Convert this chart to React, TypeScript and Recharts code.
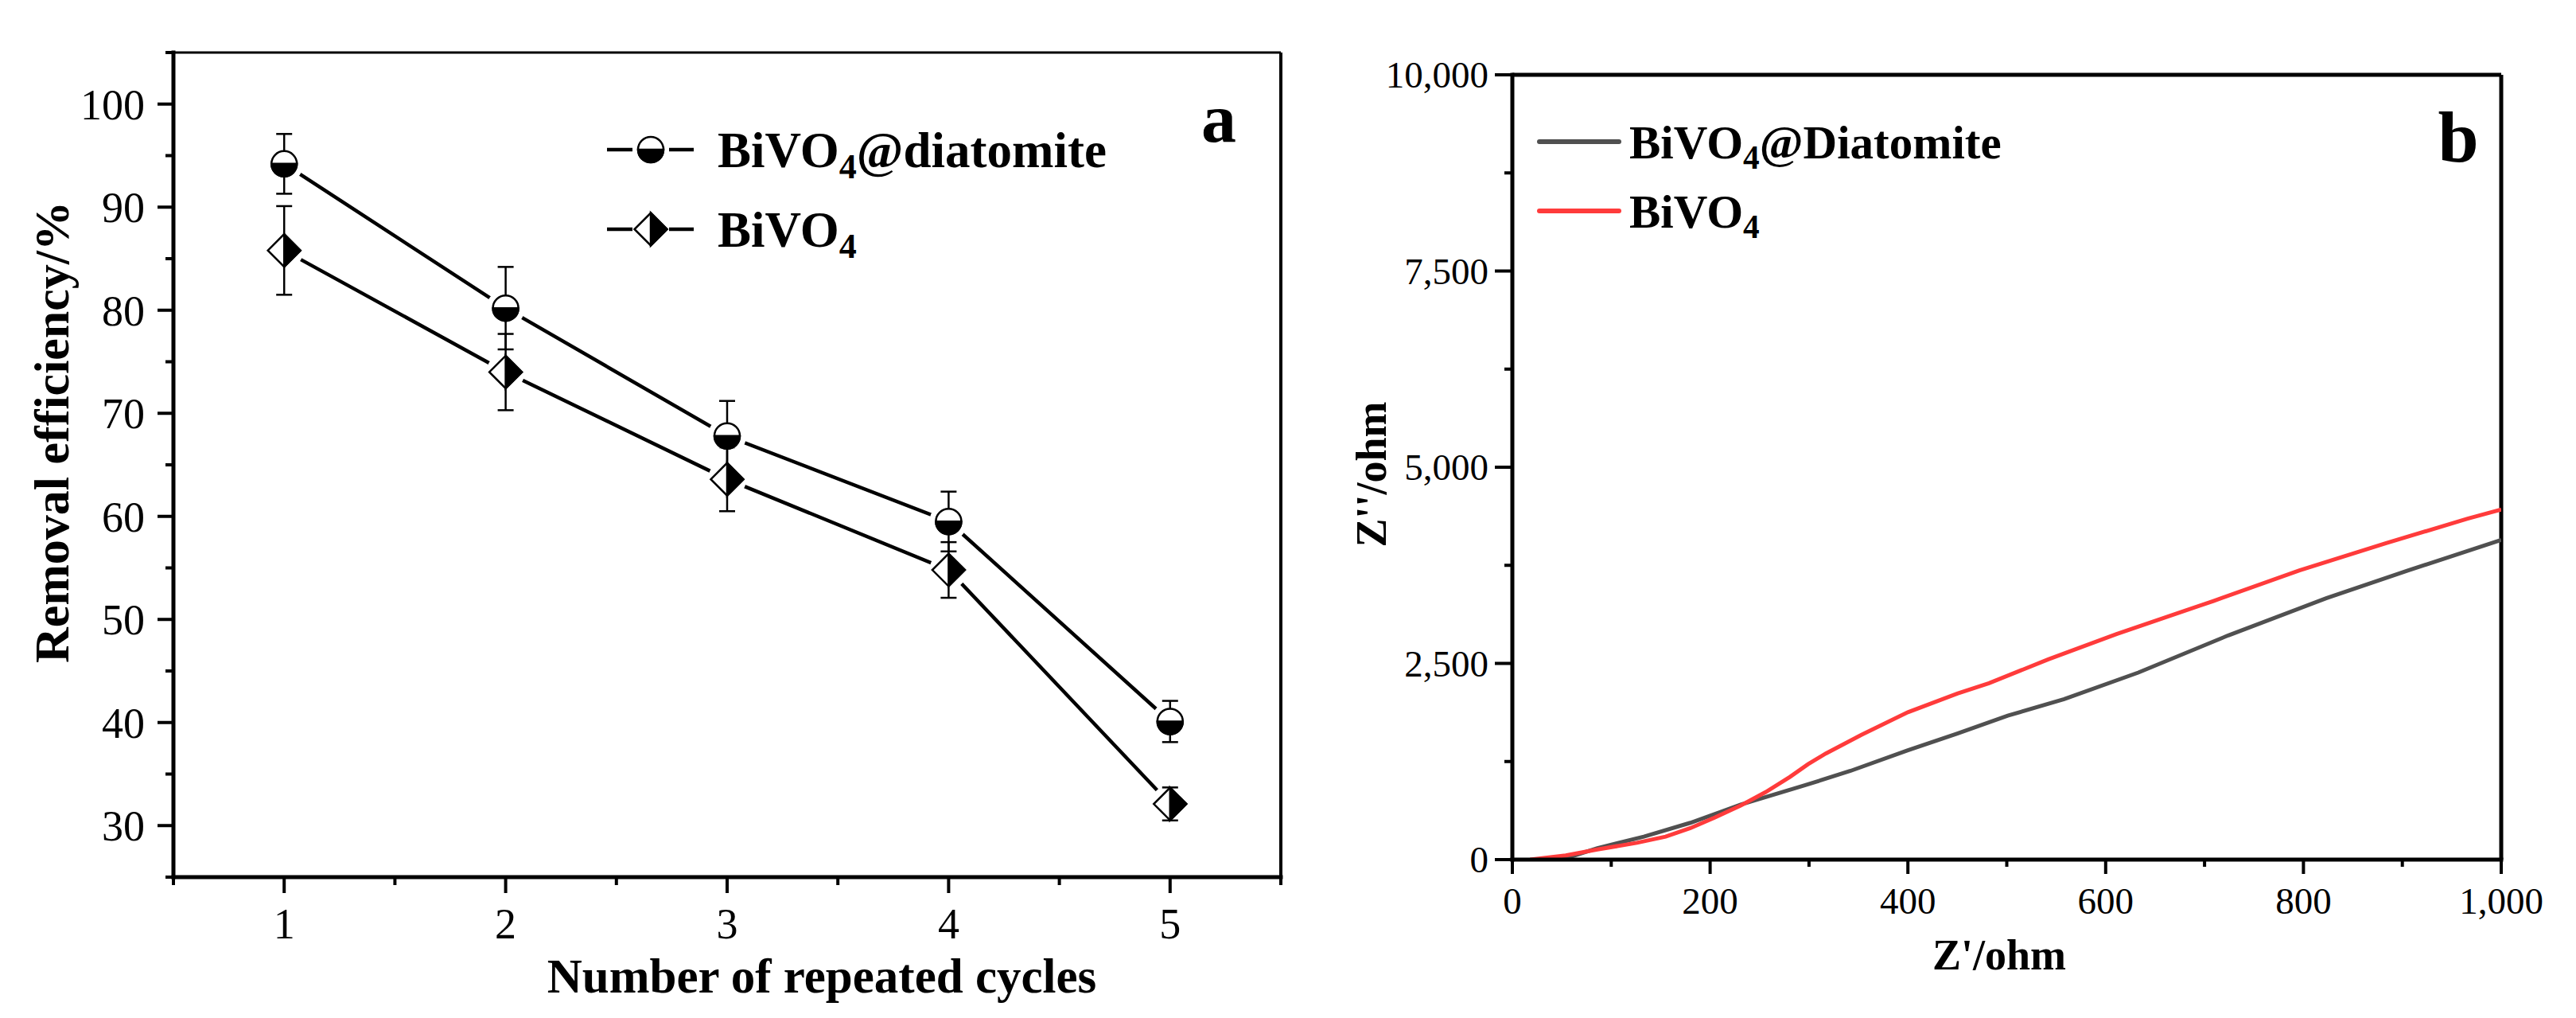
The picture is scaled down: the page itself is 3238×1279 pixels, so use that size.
import React from 'react';
import { LineChart, Line, XAxis, YAxis, ErrorBar, Legend, Customized, ReferenceLine } from 'recharts';

const FONT = '"Liberation Serif", "Times New Roman", Times, serif';

// ---------- Panel a: removal efficiency vs cycles ----------
const cycles = [1, 2, 3, 4, 5];
const compositeEff = [94.2, 80.2, 67.8, 59.5, 40.1];
const compositeErr = [2.9, 4.0, 3.4, 2.9, 2.0];
const bivo4Eff = [85.8, 74.0, 63.6, 54.8, 32.1];
const bivo4Err = [4.3, 3.7, 3.1, 2.7, 1.6];

const xTicksA = [0.5, 1, 1.5, 2, 2.5, 3, 3.5, 4, 4.5, 5, 5.5];
const xLabelsA = [1, 2, 3, 4, 5];
const yTicksA = [25, 30, 35, 40, 45, 50, 55, 60, 65, 70, 75, 80, 85, 90, 95, 100, 105];
const yLabelsA = [30, 40, 50, 60, 70, 80, 90, 100];

// ---------- Panel b: Nyquist plot ----------
const diatomiteZre = [50, 86, 133, 180, 231, 295, 342, 400, 450, 501, 558, 633, 724, 823, 906, 1000];
const diatomiteZim = [0, 146, 292, 469, 700, 944, 1131, 1393, 1607, 1834, 2045, 2383, 2857, 3330, 3685, 4074];
const bivo4Zre = [18, 54, 86, 126, 155, 180, 205, 231, 256, 281, 299, 317, 353, 400, 450, 482, 542, 611, 709, 796, 883, 966, 1000];
const bivo4Zim = [0, 54, 129, 214, 292, 401, 537, 690, 859, 1056, 1216, 1352, 1590, 1878, 2116, 2248, 2552, 2873, 3296, 3685, 4030, 4344, 4462];

const xTicksB = [0, 100, 200, 300, 400, 500, 600, 700, 800, 900, 1000];
const xLabelsB = [0, 200, 400, 600, 800, 1000];
const yTicksB = [0, 1250, 2500, 3750, 5000, 6250, 7500, 8750, 10000];
const yLabelsB = [0, 2500, 5000, 7500, 10000];

const GRAY = '#505050';
const RED = '#ff3b3b';

const dataA = cycles.map((c, i) => ({
  cycle: c,
  comp: compositeEff[i],
  compErr: compositeErr[i],
  bv: bivo4Eff[i],
  bvErr: bivo4Err[i],
}));
const dataDia = diatomiteZre.map((x, i) => ({ x, y: diatomiteZim[i] }));
const dataBv = bivo4Zre.map((x, i) => ({ x, y: bivo4Zim[i] }));

const fmtB = (v: number) => v.toLocaleString('en-US');

// ---------- markers ----------
const haloPath = (cx: number, cy: number, r: number) => {
  const a = (58 * Math.PI) / 180;
  const dx = r * Math.cos(a);
  const dy = r * Math.sin(a);
  return `M${cx},${cy} L${cx + dx},${cy - dy} A${r},${r} 0 0 1 ${cx + dx},${cy + dy} Z M${cx},${cy} L${cx - dx},${cy + dy} A${r},${r} 0 0 1 ${cx - dx},${cy - dy} Z`;
};

const CircleMark = ({ cx, cy }: { cx: number; cy: number }) => {
  const r = 16;
  return (
    <g>
      <circle cx={cx} cy={cy} r={r} fill="#fff" stroke="#000" strokeWidth={2.5} />
      <path d={`M${cx - r},${cy} A${r},${r} 0 0 0 ${cx + r},${cy} Z`} fill="#000" stroke="#000" strokeWidth={2.5} />
    </g>
  );
};

const DiamondMark = ({ cx, cy }: { cx: number; cy: number }) => {
  const w = 20.5;
  const h = 20.5;
  return (
    <g>
      <path d={`M${cx},${cy - h} L${cx + w},${cy} L${cx},${cy + h} L${cx - w},${cy} Z`} fill="#fff" stroke="#000" strokeWidth={2.5} strokeLinejoin="miter" />
      <path d={`M${cx},${cy - h} L${cx + w},${cy} L${cx},${cy + h} Z`} fill="#000" stroke="#000" strokeWidth={2.5} />
    </g>
  );
};

const circleDot = (props: any) => {
  const { cx, cy, index } = props;
  if (cx == null || cy == null) return <g key={`c${index}`} />;
  return (
    <g key={`c${index}`}>
      <path d={haloPath(cx, cy, 24)} fill="#fff" />
      <CircleMark cx={cx} cy={cy} />
    </g>
  );
};

const diamondDot = (props: any) => {
  const { cx, cy, index } = props;
  if (cx == null || cy == null) return <g key={`d${index}`} />;
  return (
    <g key={`d${index}`}>
      <path d={haloPath(cx, cy, 24)} fill="#fff" />
      <DiamondMark cx={cx} cy={cy} />
    </g>
  );
};

// ---------- ticks ----------
const makeYTick = (labels: number[], majorLen: number, minorLen: number, offset: number, fontSize: number, fmt: (v: number) => string) =>
  (props: any) => {
    const { x, y, payload } = props;
    const v = payload.value;
    const major = labels.includes(v);
    return (
      <g>
        <line x1={x} x2={x - (major ? majorLen : minorLen)} y1={y} y2={y} stroke="#000" strokeWidth={4} />
        {major && (
          <text x={x - offset} y={y} dy="0.35em" textAnchor="end" fontSize={fontSize} fontFamily={FONT} fill="#000">
            {fmt(v)}
          </text>
        )}
      </g>
    );
  };

const makeXTick = (labels: number[], majorLen: number, minorLen: number, offset: number, fontSize: number, fmt: (v: number) => string) =>
  (props: any) => {
    const { x, y, payload } = props;
    const v = payload.value;
    const major = labels.includes(v);
    return (
      <g>
        <line x1={x} x2={x} y1={y} y2={y + (major ? majorLen : minorLen)} stroke="#000" strokeWidth={4} />
        {major && (
          <text x={x} y={y + offset} textAnchor="middle" fontSize={fontSize} fontFamily={FONT} fill="#000">
            {fmt(v)}
          </text>
        )}
      </g>
    );
  };

const YTickA = makeYTick(yLabelsA, 20, 10, 36, 54, (v) => String(v));
const XTickA = makeXTick(xLabelsA, 20, 10, 77, 54, (v) => String(v));
const YTickB = makeYTick(yLabelsB, 22, 10, 30, 47, fmtB);
const XTickB = makeXTick(xLabelsB, 18, 9, 68, 47, fmtB);

// ---------- legends ----------
const bivoLabel = (size: number, rest: string) => (
  <>
    <tspan>BiVO</tspan>
    <tspan fontSize={size * 0.7} dy={size * 0.22}>4</tspan>
    {rest ? <tspan fontSize={size} dy={-size * 0.22}>{rest}</tspan> : null}
  </>
);

const LegendA = () => {
  const rows = [
    { y: 58, mark: (cx: number, cy: number) => <CircleMark cx={cx} cy={cy} />, rest: '@diatomite' },
    { y: 158, mark: (cx: number, cy: number) => <DiamondMark cx={cx} cy={cy} />, rest: '' },
  ];
  return (
    <svg width={720} height={200} style={{ display: 'block', overflow: 'visible' }}>
      {rows.map((r, i) => (
        <g key={i}>
          <line x1={23} x2={55} y1={r.y} y2={r.y} stroke="#000" strokeWidth={4.5} />
          <line x1={101} x2={132} y1={r.y} y2={r.y} stroke="#000" strokeWidth={4.5} />
          {r.mark(78, r.y)}
          <text x={162} y={r.y} dy="0.35em" fontSize={63} fontWeight="bold" fontFamily={FONT} fill="#000">
            {bivoLabel(63, r.rest)}
          </text>
        </g>
      ))}
    </svg>
  );
};

const LegendB = () => {
  const rows = [
    { y: 48, color: GRAY, rest: '@Diatomite' },
    { y: 135, color: RED, rest: '' },
  ];
  return (
    <svg width={700} height={200} style={{ display: 'block', overflow: 'visible' }}>
      {rows.map((r, i) => (
        <g key={i}>
          <line x1={18} x2={118} y1={r.y} y2={r.y} stroke={r.color} strokeWidth={6} strokeLinecap="round" />
          <text x={131} y={r.y} dy="0.35em" fontSize={59} fontWeight="bold" fontFamily={FONT} fill="#000">
            {bivoLabel(59, r.rest)}
          </text>
        </g>
      ))}
    </svg>
  );
};

const axisStyle = { stroke: '#000', strokeWidth: 5, strokeLinecap: 'square' as const };

export default function App() {
  return (
    <div style={{ position: 'absolute', left: 0, top: 0, width: 3238, height: 1279, background: '#fff', overflow: 'hidden' }}>
      {/* Panel a */}
      <div style={{ position: 'absolute', left: 0, top: 0 }}>
        <LineChart width={1620} height={1279} data={dataA} margin={{ top: 66, right: 10, bottom: 57, left: 68 }}>
          <XAxis
            dataKey="cycle"
            type="number"
            domain={[0.5, 5.5]}
            ticks={xTicksA}
            interval={0}
            tickSize={0}
            tickMargin={0}
            tickLine={false}
            tick={XTickA}
            axisLine={axisStyle}
            height={120}
            label={{
              content: () => (
                <text x={1033} y={1247} textAnchor="middle" fontSize={61} fontWeight="bold" fontFamily={FONT} fill="#000">
                  Number of repeated cycles
                </text>
              ),
            }}
          />
          <YAxis
            type="number"
            domain={[25, 105]}
            ticks={yTicksA}
            interval={0}
            tickSize={0}
            tickMargin={0}
            tickLine={false}
            tick={YTickA}
            axisLine={axisStyle}
            width={150}
            label={{
              content: () => (
                <text x={64} y={543} dy="0.35em" transform="rotate(-90 64 543)" textAnchor="middle" fontSize={62} fontWeight="bold" fontFamily={FONT} fill="#000">
                  Removal efficiency/%
                </text>
              ),
            }}
          />
          <ReferenceLine y={105} stroke="#000" strokeWidth={3} />
          <ReferenceLine x={5.5} stroke="#000" strokeWidth={4} />
          <Line dataKey="comp" stroke="#000" strokeWidth={4.5} dot={circleDot} activeDot={false} isAnimationActive={false}>
            <ErrorBar dataKey="compErr" direction="y" width={10} stroke="#000" strokeWidth={2.5} isAnimationActive={false} />
          </Line>
          <Line dataKey="bv" stroke="#000" strokeWidth={4.5} dot={diamondDot} activeDot={false} isAnimationActive={false}>
            <ErrorBar dataKey="bvErr" direction="y" width={10} stroke="#000" strokeWidth={2.5} isAnimationActive={false} />
          </Line>
          <Legend
            layout="vertical"
            align="center"
            verticalAlign="middle"
            content={() => <LegendA />}
            wrapperStyle={{ position: 'absolute', left: 740, top: 130, width: 720, height: 200, margin: 0, padding: 0 }}
          />
          <Customized
            component={() => (
              <text x={1532} y={178} textAnchor="middle" fontSize={88} fontWeight="bold" fontFamily={FONT} fill="#000">
                a
              </text>
            )}
          />
        </LineChart>
      </div>

      {/* Panel b */}
      <div style={{ position: 'absolute', left: 1620, top: 0 }}>
        <LineChart width={1618} height={1279} margin={{ top: 94, right: 94, bottom: 79, left: 101 }}>
          <XAxis
            dataKey="x"
            type="number"
            domain={[0, 1000]}
            ticks={xTicksB}
            interval={0}
            tickSize={0}
            tickMargin={0}
            tickLine={false}
            tick={XTickB}
            axisLine={axisStyle}
            height={120}
            allowDataOverflow
            label={{
              content: () => (
                <text x={893} y={1218} textAnchor="middle" fontSize={54} fontWeight="bold" fontFamily={FONT} fill="#000">
                  Z'/ohm
                </text>
              ),
            }}
          />
          <YAxis
            type="number"
            domain={[0, 10000]}
            ticks={yTicksB}
            interval={0}
            tickSize={0}
            tickMargin={0}
            tickLine={false}
            tick={YTickB}
            axisLine={axisStyle}
            width={180}
            allowDataOverflow
            label={{
              content: () => (
                <text x={103} y={596} dy="0.35em" transform="rotate(-90 103 596)" textAnchor="middle" fontSize={54} fontWeight="bold" fontFamily={FONT} fill="#000">
                  Z''/ohm
                </text>
              ),
            }}
          />
          <ReferenceLine y={10000} stroke="#000" strokeWidth={5} />
          <ReferenceLine x={1000} stroke="#000" strokeWidth={5} />
          <Line data={dataDia} dataKey="y" stroke={GRAY} strokeWidth={5} dot={false} activeDot={false} isAnimationActive={false} />
          <Line data={dataBv} dataKey="y" stroke={RED} strokeWidth={5} dot={false} activeDot={false} isAnimationActive={false} />
          <Legend
            layout="vertical"
            align="center"
            verticalAlign="middle"
            content={() => <LegendB />}
            wrapperStyle={{ position: 'absolute', left: 297, top: 130, width: 700, height: 200, margin: 0, padding: 0 }}
          />
          <Customized
            component={() => (
              <text x={1470} y={203} textAnchor="middle" fontSize={92} fontWeight="bold" fontFamily={FONT} fill="#000">
                b
              </text>
            )}
          />
        </LineChart>
      </div>
    </div>
  );
}
